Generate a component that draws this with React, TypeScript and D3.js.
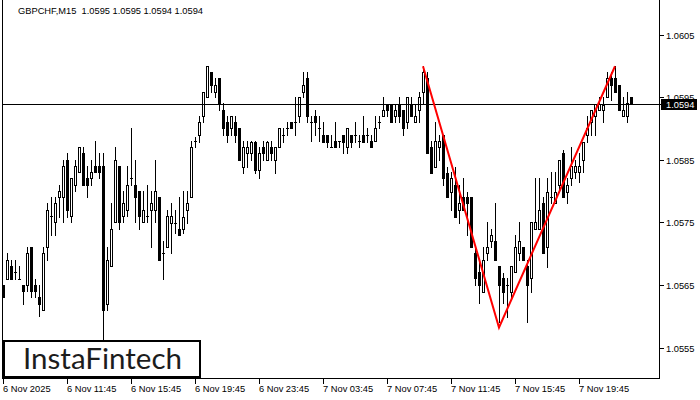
import React from "react";
import * as d3 from "d3";

const W = 700;
const H = 400;

const openP = [
  1.0565, 1.0566, 1.0568, 1.05671, 1.0566, 1.0565, 1.0565, 1.05711, 1.0565, 1.05631,
  1.0561, 1.05711, 1.0576, 1.05751, 1.05791, 1.05791, 1.0585, 1.0576, 1.0581, 1.05831,
  1.05861, 1.05821, 1.05821, 1.0584, 1.0584, 1.0584, 1.0562, 1.0568, 1.05751, 1.0584,
  1.0576, 1.0577, 1.05821, 1.0581, 1.058, 1.05751, 1.0576, 1.0577, 1.0577, 1.05791,
  1.05701, 1.05711, 1.05749, 1.05749, 1.0574, 1.0574, 1.0577, 1.05791, 1.0588, 1.0589,
  1.0592, 1.05951, 1.05991, 1.05959, 1.05981, 1.0593, 1.05911, 1.05901, 1.05911, 1.05901,
  1.05839, 1.05861, 1.05861, 1.05879, 1.05834, 1.05871, 1.0585, 1.05871, 1.0585, 1.05871,
  1.0589, 1.05901, 1.05911, 1.05911, 1.0592, 1.05959, 1.05981, 1.05911, 1.0592, 1.05901,
  1.0589, 1.0589, 1.05871, 1.0588, 1.0588, 1.0589, 1.05871, 1.0589, 1.0589, 1.0588,
  1.0589, 1.0589, 1.0588, 1.0588, 1.05911, 1.0592, 1.0594, 1.0594, 1.0592, 1.0594,
  1.0593, 1.05911, 1.0594, 1.05911, 1.0593, 1.05959, 1.05981, 1.05871, 1.05839, 1.05871,
  1.0589, 1.05829, 1.05799, 1.0581, 1.0577, 1.05791, 1.05791, 1.05791, 1.05701, 1.05671,
  1.05639, 1.05701, 1.0572, 1.0572, 1.0568, 1.05661, 1.0565, 1.05639, 1.05671, 1.05701,
  1.05711, 1.0568, 1.05661, 1.0574, 1.0574, 1.05781, 1.05711, 1.05791, 1.05781, 1.0581,
  1.05861, 1.05799, 1.05821, 1.05831, 1.05831, 1.0585, 1.0589, 1.05911, 1.0592, 1.0593,
  1.0593, 1.05951, 1.05981, 1.05981, 1.0597, 1.0592, 1.0592, 1.0595,
];

const highP = [
  1.0565, 1.05701, 1.0569, 1.0569, 1.0568, 1.0565, 1.05711, 1.05711, 1.0566, 1.0565,
  1.05711, 1.05781, 1.05791, 1.05791, 1.0581, 1.0585, 1.05861, 1.05821, 1.0585, 1.05871,
  1.05871, 1.0584, 1.0585, 1.0588, 1.05861, 1.05861, 1.05711, 1.05781, 1.05871, 1.0584,
  1.058, 1.0584, 1.05901, 1.0585, 1.058, 1.058, 1.0581, 1.058, 1.0585, 1.05791,
  1.0572, 1.0577, 1.05781, 1.0577, 1.05791, 1.058, 1.058, 1.0588, 1.05887, 1.0592,
  1.05959, 1.06, 1.05991, 1.05981, 1.05981, 1.05941, 1.0592, 1.0592, 1.0592, 1.05901,
  1.0588, 1.0588, 1.0588, 1.0588, 1.05871, 1.0588, 1.0588, 1.0588, 1.05871, 1.05901,
  1.05901, 1.05911, 1.05911, 1.05951, 1.05951, 1.05991, 1.05991, 1.0592, 1.0593, 1.0592,
  1.05911, 1.0589, 1.0589, 1.05911, 1.0588, 1.0589, 1.05901, 1.0589, 1.05911, 1.0589,
  1.0592, 1.05901, 1.0589, 1.0592, 1.0592, 1.05951, 1.0594, 1.0594, 1.0594, 1.05951,
  1.0593, 1.05951, 1.05951, 1.0594, 1.05959, 1.06, 1.05991, 1.0588, 1.05911, 1.0589,
  1.0589, 1.05839, 1.05831, 1.05839, 1.0581, 1.05821, 1.05799, 1.05791, 1.05711, 1.0569,
  1.05711, 1.05751, 1.0574, 1.05781, 1.0568, 1.05669, 1.05661, 1.0568, 1.0573, 1.05751,
  1.05711, 1.0569, 1.05751, 1.05821, 1.05821, 1.05791, 1.05821, 1.05831, 1.05831, 1.0585,
  1.05866, 1.05821, 1.05871, 1.0585, 1.05861, 1.05879, 1.0592, 1.0593, 1.0594, 1.05951,
  1.05951, 1.05991, 1.05991, 1.06, 1.0597, 1.05951, 1.05959, 1.0595,
];

const lowP = [
  1.05631, 1.0566, 1.0566, 1.0566, 1.0566, 1.0562, 1.0564, 1.05631, 1.05631, 1.056,
  1.0561, 1.0569, 1.0573, 1.0573, 1.05759, 1.05751, 1.05759, 1.05751, 1.058, 1.05831,
  1.0581, 1.05791, 1.0581, 1.05831, 1.05821, 1.05562, 1.0561, 1.0568, 1.05751, 1.0574,
  1.05751, 1.0576, 1.0581, 1.05751, 1.0574, 1.05751, 1.05751, 1.05711, 1.05751, 1.0569,
  1.0566, 1.05711, 1.05701, 1.05733, 1.0573, 1.05733, 1.05749, 1.05791, 1.05871, 1.05879,
  1.05911, 1.05951, 1.05959, 1.05951, 1.0593, 1.0589, 1.05879, 1.0589, 1.05879, 1.0585,
  1.05829, 1.05839, 1.0585, 1.05829, 1.05821, 1.0585, 1.0585, 1.0585, 1.05829, 1.05871,
  1.05879, 1.0589, 1.05901, 1.0589, 1.05911, 1.05951, 1.05911, 1.0588, 1.0589, 1.0588,
  1.05879, 1.05871, 1.05871, 1.05871, 1.05871, 1.05861, 1.05861, 1.05871, 1.05879, 1.05871,
  1.05879, 1.05879, 1.05871, 1.0588, 1.05901, 1.0592, 1.0592, 1.05911, 1.05911, 1.05911,
  1.0589, 1.05901, 1.0592, 1.05911, 1.05911, 1.05941, 1.05861, 1.05829, 1.05839, 1.0585,
  1.0581, 1.05791, 1.0577, 1.05759, 1.05749, 1.0577, 1.0573, 1.05711, 1.0565, 1.05621,
  1.05639, 1.0569, 1.05711, 1.0569, 1.05591, 1.05621, 1.05599, 1.05631, 1.05671, 1.0569,
  1.0569, 1.05591, 1.05639, 1.0574, 1.0574, 1.05701, 1.05679, 1.05781, 1.05781, 1.05799,
  1.05791, 1.05781, 1.0581, 1.05821, 1.05815, 1.05831, 1.05879, 1.0589, 1.0589, 1.0593,
  1.05911, 1.05951, 1.05946, 1.05959, 1.0593, 1.0592, 1.05911, 1.0594,
];

const closeP = [
  1.05631, 1.0569, 1.0566, 1.05671, 1.0566, 1.0564, 1.05701, 1.0564, 1.0564, 1.0562,
  1.05701, 1.0577, 1.0576, 1.05781, 1.058, 1.0584, 1.0577, 1.05821, 1.0584, 1.05871,
  1.0581, 1.0581, 1.05831, 1.05831, 1.05831, 1.0561, 1.0569, 1.0574, 1.0585, 1.05751,
  1.05781, 1.0581, 1.05821, 1.05791, 1.0576, 1.0577, 1.0576, 1.05781, 1.058, 1.0569,
  1.05701, 1.0576, 1.0576, 1.05749, 1.0573, 1.05759, 1.05781, 1.05871, 1.0588, 1.05911,
  1.05959, 1.06, 1.0597, 1.0597, 1.05941, 1.05901, 1.0589, 1.0592, 1.0589, 1.0585,
  1.05871, 1.05871, 1.05879, 1.05834, 1.05861, 1.05861, 1.05879, 1.05861, 1.05871, 1.05901,
  1.0589, 1.05901, 1.05901, 1.05911, 1.05951, 1.0597, 1.0592, 1.05911, 1.05911, 1.05901,
  1.05879, 1.05879, 1.05871, 1.05871, 1.0588, 1.05879, 1.05901, 1.05879, 1.0589, 1.0588,
  1.05879, 1.0589, 1.05871, 1.05901, 1.05911, 1.0593, 1.0593, 1.05911, 1.0593, 1.0592,
  1.05901, 1.05951, 1.0592, 1.0592, 1.05951, 1.05991, 1.05861, 1.05829, 1.0588, 1.0588,
  1.05821, 1.05791, 1.05821, 1.05759, 1.05781, 1.0577, 1.05781, 1.05711, 1.05661, 1.0565,
  1.0569, 1.05711, 1.0573, 1.0569, 1.0565, 1.05639, 1.0565, 1.0568, 1.05711, 1.0572,
  1.0569, 1.0565, 1.05751, 1.05751, 1.0577, 1.05701, 1.05799, 1.05791, 1.05799, 1.0585,
  1.05791, 1.0581, 1.0584, 1.0584, 1.0584, 1.05879, 1.05901, 1.0593, 1.0594, 1.0594,
  1.05938, 1.05981, 1.0597, 1.05959, 1.0593, 1.0593, 1.05941, 1.0594,
];

const priceTicks = [1.0605, 1.0595, 1.0585, 1.0575, 1.0565, 1.0555];
const timeTickIdx = [0, 16, 32, 48, 64, 80, 96, 112, 128, 144];
const timeTickLabels = [
  "6 Nov 2025",
  "6 Nov 11:45",
  "6 Nov 15:45",
  "6 Nov 19:45",
  "6 Nov 23:45",
  "7 Nov 03:45",
  "7 Nov 07:45",
  "7 Nov 11:45",
  "7 Nov 15:45",
  "7 Nov 19:45",
];
const patternIdx = [105, 124, 153];
const patternPrice = [1.06, 1.05582, 1.06];
const lastPrice = 1.0594;
const headerText = "GBPCHF,M15  1.0595 1.0595 1.0594 1.0594";

const FONT = "'Liberation Sans', Arial, sans-serif";

export default function App() {
  const x = d3.scaleLinear().domain([0, 164]).range([3, 659]);
  const y = d3.scaleLinear().domain([1.0555, 1.0605]).range([347.5, 35]);
  const px = (i: number) => Math.round(x(i));
  const py = (p: number) => Math.round(y(p));

  const candles = openP.map((o, i) => {
    const xc = px(i);
    const yo = py(o);
    const yc = py(closeP[i]);
    const yh = py(highP[i]);
    const yl = py(lowP[i]);
    const top = Math.min(yo, yc);
    const bot = Math.max(yo, yc);
    let body: React.ReactNode;
    if (bot - top < 1) {
      body = <rect x={xc - 1} y={yo} width={3} height={1} fill="#000" />;
    } else if (closeP[i] > o) {
      body = (
        <rect
          x={xc - 0.5}
          y={top + 0.5}
          width={2}
          height={bot - top}
          fill="#fff"
          stroke="#000"
          strokeWidth={1}
        />
      );
    } else {
      body = <rect x={xc - 1} y={top} width={3} height={bot - top + 1} fill="#000" />;
    }
    return (
      <g key={i}>
        <rect x={xc} y={yh} width={1} height={yl - yh + 1} fill="#000" />
        {body}
      </g>
    );
  });

  const pattern = d3
    .line<number>()
    .x((d) => x(d))
    .y((_, j) => y(patternPrice[j]))(patternIdx);

  const yLast = py(lastPrice) + 0.5;

  return (
    <svg
      width={W}
      height={H}
      style={{ position: "absolute", left: 0, top: 0, background: "#fff" }}
      fontFamily={FONT}
    >
      <rect x={0} y={0} width={W} height={H} fill="#fff" />
      <text x={18} y={13.5} fontSize={9.3} fill="#000" style={{ whiteSpace: "pre" }}>
        {headerText}
      </text>
      {candles}
      <line x1={2} x2={662} y1={yLast} y2={yLast} stroke="#000" strokeWidth={1} />
      <path d={pattern || ""} fill="none" stroke="#ff0000" strokeWidth={2} />
      {/* frame */}
      <line x1={2.5} x2={2.5} y1={0} y2={379} stroke="#000" />
      <line x1={659.5} x2={659.5} y1={0} y2={379} stroke="#000" />
      <line x1={2} x2={660} y1={378.5} y2={378.5} stroke="#000" />
      {/* price axis */}
      {priceTicks.map((t) => (
        <g key={t}>
          <line x1={659} x2={664} y1={py(t) + 0.5} y2={py(t) + 0.5} stroke="#000" />
          <text x={666} y={py(t) + 4} fontSize={9.3} fill="#000">
            {t.toFixed(4)}
          </text>
        </g>
      ))}
      <rect x={661} y={99} width={36} height={11} fill="#000" />
      <text x={666} y={108} fontSize={9.3} fill="#fff">
        {lastPrice.toFixed(4)}
      </text>
      {/* time axis */}
      {timeTickIdx.map((k, j) => (
        <g key={k}>
          <line x1={px(k) + 0.5} x2={px(k) + 0.5} y1={379} y2={384} stroke="#000" />
          <text x={px(k)} y={392} fontSize={9.3} fill="#000">
            {timeTickLabels[j]}
          </text>
        </g>
      ))}
      {/* logo */}
      <rect x={4} y={341} width={196} height={36} fill="#fff" stroke="#000" strokeWidth={2} />
      <text
        x={23}
        y={369}
        fontSize={28}
        fontFamily="Lato, 'Liberation Sans', sans-serif"
        fill="#1c1c1c"
        textLength={159}
        lengthAdjust="spacingAndGlyphs"
      >
        InstaFintech
      </text>
    </svg>
  );
}
